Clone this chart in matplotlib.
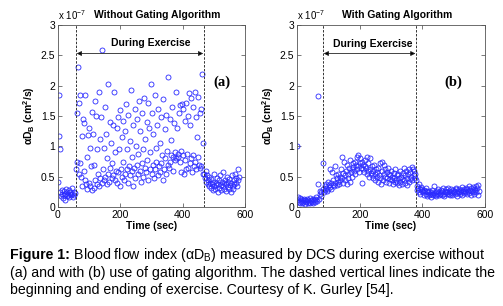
import matplotlib
matplotlib.use("Agg")
import matplotlib.pyplot as plt
import numpy as np

plt.rcParams["font.family"] = ["Liberation Sans", "DejaVu Sans"]
plt.rcParams["mathtext.fontset"] = "custom"
plt.rcParams["mathtext.rm"] = "Liberation Sans"
plt.rcParams["mathtext.bf"] = "Liberation Sans:bold"
plt.rcParams["mathtext.it"] = "Liberation Sans:italic"

# --- data (values in units of 1e-7 cm^2/s), sampled every 2 s ---
# (start, stop, step) of each recording segment, seconds
segments_a = [(0, 56, 2), (58, 468, 2), (470, 582, 2)]
segments_b = [(0, 80, 2), (82, 382, 2), (382, 582, 2)]

rest_a = [0.42, 1.85, 1.17, 0.95, 0.25, 0.18, 0.22, 0.28, 0.15, 0.20,
          0.26, 0.12, 0.22, 0.30, 0.18, 0.24, 0.20, 0.28, 0.16, 0.22,
          0.25, 0.19, 0.31, 0.21, 0.17, 0.24, 0.20, 0.23]
exercise_a = [0.62, 1.55, 0.75, 2.31, 0.55, 1.72, 0.72, 1.85, 0.50, 1.17,
              0.35, 1.45, 0.60, 1.38, 0.45, 1.85, 0.38, 0.82, 0.30, 1.18,
              0.40, 1.30, 0.35, 0.98, 0.68, 1.57, 0.28, 1.20, 0.32, 0.70,
              1.75, 0.45, 1.50, 0.38, 0.95, 0.55, 1.90, 0.35, 1.12, 0.48,
              1.48, 0.40, 2.58, 0.62, 0.98, 0.45, 1.65, 0.50, 1.20, 0.38,
              0.80, 0.55, 2.03, 0.42, 1.40, 0.65, 1.05, 0.48, 0.72, 1.35,
              0.52, 1.90, 0.45, 0.90, 0.60, 1.30, 0.40, 1.48, 0.58, 0.95,
              0.35, 1.60, 0.62, 1.15, 0.50, 0.75, 1.42, 0.45, 1.25, 0.55,
              1.70, 0.62, 0.95, 0.40, 1.52, 0.68, 1.08, 0.52, 1.93, 0.60,
              0.82, 0.35, 1.35, 0.65, 1.62, 0.48, 1.00, 0.70, 1.45, 0.55,
              0.88, 1.75, 0.60, 1.25, 0.42, 1.55, 0.72, 0.95, 0.50, 1.80,
              0.65, 1.12, 0.58, 1.40, 0.78, 1.72, 0.45, 1.30, 0.62, 0.90,
              2.02, 0.55, 1.55, 0.70, 1.20, 0.48, 1.85, 0.62, 0.98, 0.75,
              1.35, 0.52, 1.62, 0.68, 1.05, 0.58, 1.48, 0.72, 0.85, 0.45,
              1.78, 0.62, 1.28, 0.80, 1.52, 0.55, 0.92, 0.70, 2.15, 0.65,
              1.45, 0.75, 1.10, 0.85, 1.65, 0.60, 0.82, 1.38, 0.90, 0.78,
              1.90, 0.80, 1.30, 0.88, 0.82, 1.55, 0.75, 1.68, 0.92, 0.58,
              1.70, 0.85, 1.62, 0.55, 1.42, 0.78, 1.72, 0.62, 0.88, 1.50,
              0.65, 1.88, 0.72, 1.35, 0.80, 1.80, 0.58, 1.65, 0.85, 0.68,
              1.90, 0.75, 1.48, 0.62, 1.15, 0.82, 1.82, 0.70, 1.55, 0.65,
              1.62, 0.68, 2.19, 0.55, 1.05]
recovery_a = [0.55, 0.48, 0.60, 0.42, 0.52, 0.38, 0.45, 0.35, 0.50, 0.40,
              0.32, 0.46, 0.38, 0.28, 0.42, 0.35, 0.55, 0.30, 0.40, 0.36,
              0.48, 0.25, 0.38, 0.44, 0.32, 0.52, 0.36, 0.28, 0.42, 0.34,
              0.57, 0.30, 0.40, 0.45, 0.26, 0.38, 0.50, 0.33, 0.42, 0.29,
              0.46, 0.36, 0.24, 0.40, 0.52, 0.34, 0.30, 0.44, 0.38, 0.55,
              0.40, 0.48, 0.35, 0.62, 0.45, 0.50]

rest_b = [1.00, 0.17, 0.12, 0.08, 0.15, 0.06, 0.10, 0.13, 0.07, 0.11,
          0.09, 0.14, 0.05, 0.12, 0.08, 0.10, 0.13, 0.06, 0.11, 0.09,
          0.15, 0.07, 0.12, 0.10, 0.08, 0.14, 0.06, 0.11, 0.13, 0.09,
          0.12, 0.16, 0.10, 1.83, 0.38, 0.14, 0.22, 0.27, 0.18, 0.25]
exercise_b = [0.72, 0.30, 0.25, 0.35, 0.28, 0.38, 0.32, 0.27, 0.42, 0.30,
              0.36, 0.62, 0.33, 0.40, 0.30, 0.58, 0.37, 0.44, 0.34, 0.67,
              0.40, 0.52, 0.36, 0.47, 0.55, 0.42, 0.38, 0.50, 0.45, 0.62,
              0.83, 0.48, 0.40, 0.56, 0.75, 0.52, 0.44, 0.60, 0.38, 0.70,
              0.55, 0.48, 0.65, 0.42, 0.78, 0.58, 0.62, 0.50, 0.72, 0.66,
              0.60, 0.75, 0.55, 0.70, 0.82, 0.62, 0.68, 0.85, 0.58, 0.72,
              0.80, 0.65, 0.40, 0.75, 0.62, 0.70, 0.58, 0.68, 0.78, 0.64,
              0.55, 0.82, 0.60, 0.72, 0.50, 0.80, 0.62, 0.56, 0.68, 0.52,
              0.60, 0.48, 0.70, 0.55, 0.45, 0.62, 0.50, 0.58, 0.42, 0.65,
              0.52, 0.72, 0.48, 0.38, 0.60, 0.75, 0.45, 0.55, 0.70, 0.50,
              0.62, 0.42, 0.58, 0.48, 0.65, 0.40, 0.55, 0.46, 0.52, 0.60,
              0.44, 0.50, 0.38, 0.56, 0.48, 0.42, 0.62, 0.45, 0.52, 0.40,
              0.55, 0.36, 0.48, 0.60, 0.42, 0.50, 0.38, 0.46, 0.56, 0.44,
              0.65, 0.40, 0.52, 0.60, 0.36, 0.48, 0.55, 0.42, 0.62, 0.46,
              0.58, 0.50, 0.66, 0.44, 0.62, 0.52, 0.60, 0.48, 0.55, 0.45]
recovery_b = [0.35, 0.28, 0.32, 0.25, 0.38, 0.30, 0.22, 0.33, 0.27, 0.30,
              0.24, 0.28, 0.20, 0.26, 0.31, 0.22, 0.18, 0.27, 0.24, 0.20,
              0.26, 0.22, 0.17, 0.25, 0.21, 0.28, 0.19, 0.23, 0.34, 0.20,
              0.24, 0.18, 0.27, 0.22, 0.30, 0.19, 0.25, 0.21, 0.28, 0.23,
              0.20, 0.26, 0.31, 0.22, 0.18, 0.27, 0.24, 0.29, 0.21, 0.25,
              0.32, 0.22, 0.27, 0.19, 0.25, 0.30, 0.23, 0.20, 0.28, 0.24,
              0.26, 0.21, 0.29, 0.32, 0.23, 0.18, 0.27, 0.25, 0.30, 0.22,
              0.28, 0.24, 0.33, 0.20, 0.26, 0.30, 0.23, 0.27, 0.32, 0.25,
              0.21, 0.29, 0.26, 0.34, 0.23, 0.28, 0.31, 0.20, 0.27, 0.33,
              0.25, 0.30, 0.22, 0.28, 0.35, 0.24, 0.31, 0.20, 0.36, 0.27]

exercise_lines_a = [58, 468]
exercise_lines_b = [83, 380]
titles = ["Without Gating Algorithm", "With Gating Algorithm"]
panel_tags = ["(a)", "(b)"]
caption_lines = [
    r" Blood flow index (αD$_\mathrm{B}$) measured by DCS during exercise without",
    "(a) and with (b) use of gating algorithm. The dashed vertical lines indicate the",
    "beginning and ending of exercise. Courtesy of K. Gurley [54].",
]


def build(segments, parts):
    t = np.concatenate([np.arange(*s) for s in segments])
    v = np.concatenate([np.array(p) for p in parts])
    return t, v


t_a, v_a = build(segments_a, [rest_a, exercise_a, recovery_a])
t_b, v_b = build(segments_b, [rest_b, exercise_b, recovery_b])

fig = plt.figure(figsize=(5.03, 3.06), dpi=100)
ax_a = fig.add_axes([0.1153, 0.3235, 0.3718, 0.5948])
ax_b = fig.add_axes([0.5905, 0.3235, 0.3738, 0.5948])

panels = [
    (ax_a, t_a, v_a, exercise_lines_a, titles[0], panel_tags[0], (526, 2.06), (298, 2.70)),
    (ax_b, t_b, v_b, exercise_lines_b, titles[1], panel_tags[1], (500, 2.05), (243, 2.69)),
]

for ax, t, v, lines, title, tag, tag_xy, lbl_xy in panels:
    ax.plot(t, v, "o", ms=3.6, mfc="none", mec="#2a2aff", mew=0.6, ls="none")
    for x in lines:
        ax.axvline(x, ls=(0, (2.5, 1.5)), color="#333333", lw=0.7)
    ax.annotate("", xy=(lines[0] + 2, 2.53), xytext=(lines[1] - 2, 2.53),
                arrowprops=dict(arrowstyle="<|-|>", lw=0.6, mutation_scale=7,
                                shrinkA=0, shrinkB=0, fc="black", ec="#222222"))
    ax.text(lbl_xy[0], lbl_xy[1], "During Exercise", ha="center", va="center",
            fontsize=7.5, fontweight="bold")
    ax.text(tag_xy[0], tag_xy[1], tag, ha="center", va="center", fontsize=10.5,
            fontweight="bold", family=["Liberation Serif"])
    ax.set_xlim(0, 600)
    ax.set_ylim(0, 3)
    ax.set_xticks([0, 200, 400, 600])
    ax.set_yticks([0, 0.5, 1, 1.5, 2, 2.5, 3])
    ax.set_yticklabels(["0", "0.5", "1", "1.5", "2", "2.5", "3"])
    ax.tick_params(direction="in", top=True, right=True, length=3, width=0.5,
                   labelsize=7.5, pad=2, color="#444444")
    for sp in ax.spines.values():
        sp.set_linewidth(0.6)
        sp.set_color("#555555")
    ax.set_title(title, fontsize=7.5, fontweight="bold", pad=5, x=0.53)
    ax.set_xlabel("Time (sec)", fontsize=7.5, fontweight="bold", labelpad=1)
    ax.set_ylabel(r"αD$_\mathbf{B}$ (cm$^\mathbf{2}$/s)", fontsize=7.5,
                  fontweight="bold", labelpad=3)
    ax.text(0.0, 1.015, r"x 10$^{-7}$", transform=ax.transAxes, fontsize=7,
            ha="left", va="bottom")

# caption
cap_size = 10.2
x0 = 10 / 503
cap_y = [1 - 255 / 306, 1 - 273 / 306, 1 - 290 / 306]
head = fig.text(x0, cap_y[0], "Figure 1:", fontsize=cap_size, fontweight="bold",
                va="center")
fig.add_artist(plt.Annotation(caption_lines[0], xy=(1, 0.5), xycoords=head,
                              va="center", ha="left", fontsize=cap_size))
fig.text(x0, cap_y[1], caption_lines[1], fontsize=cap_size, va="center")
fig.text(x0, cap_y[2], caption_lines[2], fontsize=cap_size, va="center")

fig.savefig("out.png", dpi=100)
